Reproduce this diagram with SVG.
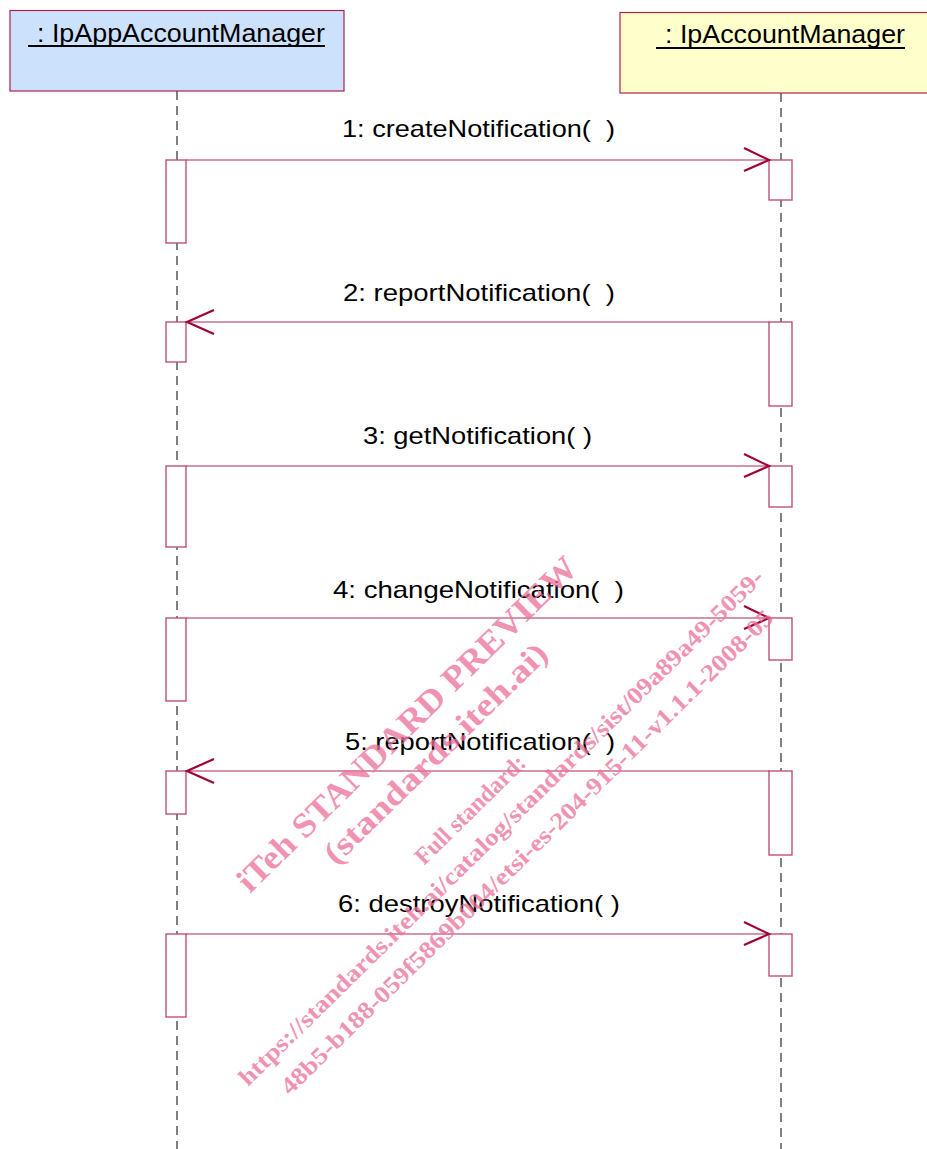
<svg xmlns="http://www.w3.org/2000/svg" width="927" height="1149" viewBox="0 0 927 1149">
<style>
.title{font-family:"Liberation Sans",Arial,sans-serif;font-size:25px;fill:#000}
.lbl{font-family:"Liberation Sans",Arial,sans-serif;font-size:24px;fill:#000}
.msg{stroke:#b0285a;stroke-width:1.2;fill:none}
.head{stroke:#a00038;stroke-width:2.2;fill:none}
.act{fill:#fff;stroke:#c0507a;stroke-width:1.4}
.wm{font-family:"Liberation Serif","Times New Roman",serif;font-weight:bold;fill:#ec6f9a;opacity:0.75}
</style>
<rect width="927" height="1149" fill="#fff"/>
<g id="lifelines">
<line x1="177" y1="91" x2="177" y2="1149" stroke="#000" stroke-width="1" stroke-dasharray="9,6"/>
<line x1="781" y1="93" x2="781" y2="1149" stroke="#808080" stroke-width="2" stroke-dasharray="9,6"/>
</g>
<g id="node-ipappaccountmanager">
<rect x="10" y="10.5" width="334" height="80.5" fill="#cce2fc" stroke="#b0204a" stroke-width="1.2"/>
<text class="title" x="37" y="42" textLength="288" lengthAdjust="spacingAndGlyphs">: IpAppAccountManager</text>
<line x1="28" y1="46" x2="325" y2="46" stroke="#000" stroke-width="2"/>
</g>
<g id="node-ipaccountmanager">
<rect x="620" y="12.5" width="320" height="80.5" fill="#ffffcc" stroke="#b0204a" stroke-width="1.2"/>
<text class="title" x="665" y="43" textLength="240" lengthAdjust="spacingAndGlyphs">: IpAccountManager</text>
<line x1="656" y1="48" x2="905" y2="48" stroke="#000" stroke-width="2"/>
</g>
<g id="activations">
<rect class="act" x="166" y="160" width="20" height="83"/>
<rect class="act" x="769" y="160" width="23" height="40"/>
<rect class="act" x="166" y="322" width="20" height="40"/>
<rect class="act" x="769" y="322" width="23" height="84"/>
<rect class="act" x="166" y="466" width="20" height="81"/>
<rect class="act" x="769" y="466" width="23" height="41"/>
<rect class="act" x="166" y="618" width="20" height="83"/>
<rect class="act" x="769" y="618" width="23" height="42"/>
<rect class="act" x="166" y="771" width="20" height="43"/>
<rect class="act" x="769" y="771" width="23" height="84"/>
<rect class="act" x="166" y="934" width="20" height="83"/>
<rect class="act" x="769" y="934" width="23" height="42"/>
</g>
<g id="connectors">
<line class="msg" x1="186" y1="160" x2="769" y2="160"/>
<polyline class="head" points="744,148 769,160 744,171"/>
<line class="msg" x1="769" y1="322" x2="187" y2="322"/>
<polyline class="head" points="214,310 187,322 214,334"/>
<line class="msg" x1="186" y1="466" x2="769" y2="466"/>
<polyline class="head" points="744,454 769,466 744,477"/>
<line class="msg" x1="186" y1="618" x2="769" y2="618"/>
<polyline class="head" points="744,606 769,618 744,629"/>
<line class="msg" x1="769" y1="771" x2="187" y2="771"/>
<polyline class="head" points="214,759 187,771 214,783"/>
<line class="msg" x1="186" y1="934" x2="769" y2="934"/>
<polyline class="head" points="744,922 769,934 744,945"/>
</g>
<g id="labels">
<text class="lbl" x="342" y="137" textLength="273" lengthAdjust="spacingAndGlyphs">1: createNotification(&#160;&#160;)</text>
<text class="lbl" x="343" y="301" textLength="272" lengthAdjust="spacingAndGlyphs">2: reportNotification(&#160;&#160;)</text>
<text class="lbl" x="363" y="444" textLength="229" lengthAdjust="spacingAndGlyphs">3: getNotification( )</text>
<text class="lbl" x="333" y="598" textLength="291" lengthAdjust="spacingAndGlyphs">4: changeNotification(&#160;&#160;)</text>
<text class="lbl" x="345" y="750" textLength="270" lengthAdjust="spacingAndGlyphs">5: reportNotification(&#160;&#160;)</text>
<text class="lbl" x="338" y="912" textLength="282" lengthAdjust="spacingAndGlyphs">6: destroyNotification( )</text>
</g>
<g id="watermark">
<text class="wm" font-size="34" x="250" y="894" transform="rotate(-44.5 250 894)" textLength="462" lengthAdjust="spacingAndGlyphs">iTeh STANDARD PREVIEW</text>
<text class="wm" font-size="32" x="336" y="866" transform="rotate(-44.5 336 866)" textLength="300" lengthAdjust="spacingAndGlyphs">(standards.iteh.ai)</text>
<text class="wm" font-size="24" x="424" y="866" transform="rotate(-44.5 424 866)" textLength="145" lengthAdjust="spacingAndGlyphs">Full standard:</text>
<text class="wm" font-size="24" x="248" y="1087" transform="rotate(-44.5 248 1087)" textLength="725" lengthAdjust="spacingAndGlyphs">https://standards.iteh.ai/catalog/standards/sist/09a89a49-5059-</text>
<text class="wm" font-size="24" x="290" y="1096" transform="rotate(-44.5 290 1096)" textLength="680" lengthAdjust="spacingAndGlyphs">48b5-b188-059f5869b004/etsi-es-204-915-11-v1.1.1-2008-05</text>
</g>
</svg>
